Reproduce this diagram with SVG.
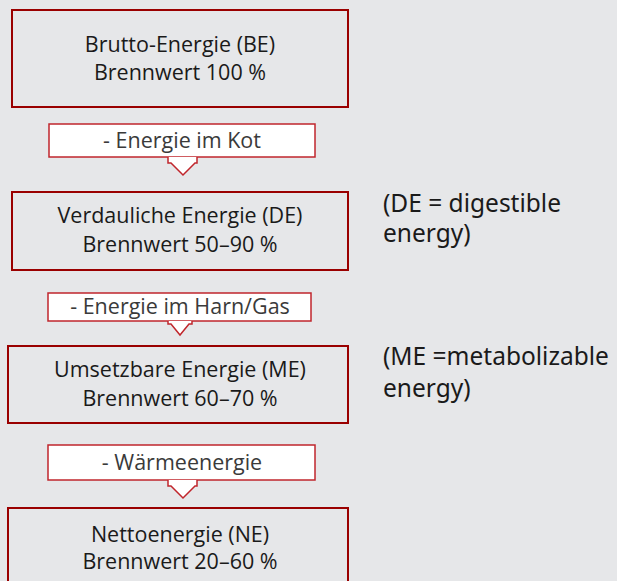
<svg xmlns="http://www.w3.org/2000/svg" width="617" height="581" viewBox="0 0 617 581">
<defs>
<linearGradient id="bg" x1="0" y1="0" x2="1" y2="1">
<stop offset="0" stop-color="#b00000"/><stop offset="0.7" stop-color="#8a0000"/><stop offset="1" stop-color="#200000"/>
</linearGradient>
</defs>
<style>
.box{fill:none;stroke:#9a0000;stroke-width:2}
.lbl{fill:#ffffff;stroke:#c0262c;stroke-width:1.5}
.arr{fill:#ffffff;stroke:#c0262c;stroke-width:1.5;stroke-linejoin:miter}
.t{font-family:"Open Sans","Noto Sans",sans-serif;font-size:21.5px;fill:#1a1a1a;text-anchor:middle}
.l{font-family:"Open Sans","Noto Sans",sans-serif;font-size:21.5px;fill:#3a3a3a;text-anchor:middle}
.n{font-family:"Noto Sans","Open Sans",sans-serif;font-size:24.5px;fill:#1a1a1a}
</style>
<rect width="617" height="581" fill="#e6e7e9"/>
<g id="connectors">
<g id="c1"><rect class="lbl" x="49" y="124" width="266" height="33"/><path class="arr" d="M168,157 V163 H171 L183,175 L195,163 H197 V157"/><text class="l" x="182" y="148">- Energie im Kot</text></g>
<g id="c2"><rect class="lbl" x="48" y="293" width="263" height="28"/><path class="arr" d="M168,321 V324 H171 L180,335 L189,324 H192 V321"/><text class="l" x="180" y="314">- Energie im Harn/Gas</text></g>
<g id="c3"><rect class="lbl" x="48" y="445" width="267" height="35"/><path class="arr" d="M168,480 V486 H171 L183,498 L195,486 H197 V480"/><text class="l" x="182" y="470">- Wärmeenergie</text></g>
</g>
<g id="be"><rect class="box" x="12" y="10" width="336" height="97" stroke="url(#bg)"/><text class="t" x="180" y="52">Brutto-Energie (BE)</text><text class="t" x="180" y="80">Brennwert 100 %</text></g>
<g id="de"><rect class="box" x="12" y="192" width="336" height="78"/><text class="t" x="180" y="223">Verdauliche Energie (DE)</text><text class="t" x="180" y="252">Brennwert 50–90 %</text></g>
<g id="me"><rect class="box" x="8" y="346" width="340" height="77"/><text class="t" x="180" y="377">Umsetzbare Energie (ME)</text><text class="t" x="180" y="406">Brennwert 60–70 %</text></g>
<g id="ne"><rect class="box" x="8" y="508" width="340" height="80"/><text class="t" x="180" y="542">Nettoenergie (NE)</text><text class="t" x="180" y="569">Brennwert 20–60 %</text></g>
<g id="notes">
<text class="n" x="383" y="212">(DE = digestible</text>
<text class="n" x="383" y="242">energy)</text>
<text class="n" x="383" y="365">(ME =metabolizable</text>
<text class="n" x="383" y="397">energy)</text>
</g>
</svg>
